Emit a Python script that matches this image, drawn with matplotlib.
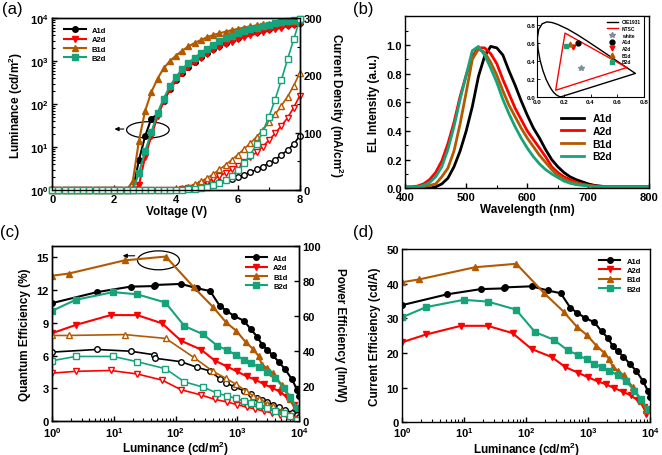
import numpy as np
import matplotlib
matplotlib.use('Agg')
import matplotlib.pyplot as plt
from matplotlib.patches import Ellipse
from matplotlib.ticker import AutoMinorLocator, LogLocator, NullFormatter

plt.rcParams['font.family'] = ['Liberation Sans', 'DejaVu Sans']
plt.rcParams['font.weight'] = 'bold'
plt.rcParams['axes.labelweight'] = 'bold'
plt.rcParams['mathtext.fontset'] = 'custom'
plt.rcParams['mathtext.bf'] = 'Liberation Sans:bold'
plt.rcParams['mathtext.rm'] = 'Liberation Sans:bold'
plt.rcParams['xtick.direction'] = 'in'
plt.rcParams['ytick.direction'] = 'in'
plt.rcParams['axes.linewidth'] = 1.0

# ---- (a) L-J-V data, 0.2 V steps
volt = [0.0, 0.2, 0.4, 0.6, 0.8, 1.0, 1.2, 1.4, 1.6, 1.8, 2.0, 2.2, 2.4, 2.6, 2.8, 3.0,
        3.2, 3.4, 3.6, 3.8, 4.0, 4.2, 4.4, 4.6, 4.8, 5.0, 5.2, 5.4, 5.6, 5.8, 6.0,
        6.2, 6.4, 6.6, 6.8, 7.0, 7.2, 7.4, 7.6, 7.8, 8.0]
lum_A1d = [1] * 14 + [5, 18, 46, 58, 120, 220, 360, 530, 740, 980, 1250, 1550, 1900, 2300,
                      2700, 3100, 3500, 3950, 4400, 4850, 5300, 5700, 6150, 6600, 7000, 7450, 7900]
lum_A2d = [1] * 14 + [1.3, 6, 18, 52, 115, 220, 360, 520, 720, 950, 1200, 1500, 1800, 2150,
                      2500, 2850, 3200, 3600, 4000, 4400, 4800, 5200, 5600, 6000, 6400, 6800, 7200]
lum_B1d = [1] * 13 + [1.6, 14, 70, 190, 390, 690, 1000, 1350, 1750, 2200, 2650, 3100, 3600, 4050,
                      4450, 4850, 5250, 5650, 6050, 6400, 6800, 7150, 7500, 7800, 8100, 8400, 8700, 9000]
lum_B2d = [1] * 14 + [2.5, 8, 22, 62, 135, 260, 430, 650, 900, 1200, 1550, 1950, 2400, 2900,
                      3400, 3900, 4450, 5000, 5500, 6000, 6600, 7100, 7600, 8100, 8600, 9100, 9500]
J_A1d = [0] * 22 + [1, 3, 5, 8, 11, 14, 17, 20, 23, 27, 31, 36, 41, 47, 53, 61, 70, 80, 95]
J_A2d = [0] * 21 + [1, 3, 6, 10, 14, 19, 24, 30, 36, 42, 49, 57, 66, 76, 87, 99, 112, 126, 144, 165]
J_B1d = [0] * 20 + [1, 3, 6, 10, 15, 21, 28, 36, 44, 53, 62, 72, 82, 93, 105, 118, 132, 147, 163, 182, 205]
J_B2d = [0] * 22 + [1, 2, 4, 6, 9, 13, 18, 25, 35, 47, 62, 80, 102, 128, 158, 192, 228, 263, 298]

# ---- (b) EL spectra, 10 nm steps
wl = list(range(400, 801, 10))
el_A1d = [0, 0, 0, 0, 0, 0.01, 0.03, 0.07, 0.15, 0.26, 0.40, 0.57, 0.78, 0.92, 0.99,
          0.98, 0.93, 0.82, 0.72, 0.61, 0.51, 0.42, 0.35, 0.27, 0.20, 0.15, 0.11, 0.08,
          0.06, 0.045, 0.03, 0.02, 0.015, 0.01, 0.01, 0.01, 0.01, 0.01, 0.01, 0.01, 0.01]
el_A2d = [0.01, 0.01, 0.015, 0.03, 0.06, 0.11, 0.19, 0.31, 0.46, 0.64, 0.79, 0.92, 0.98, 0.98,
          0.94, 0.87, 0.76, 0.66, 0.56, 0.48, 0.40, 0.34, 0.28, 0.22, 0.15, 0.11, 0.08, 0.06,
          0.04, 0.03, 0.02, 0.015, 0.01, 0.01, 0.01, 0.01, 0.01, 0.01, 0.01, 0.01, 0.01]
el_B1d = [0, 0, 0.005, 0.01, 0.02, 0.03, 0.08, 0.14, 0.26, 0.45, 0.67, 0.90, 0.97, 0.95,
          0.88, 0.79, 0.68, 0.58, 0.50, 0.42, 0.35, 0.29, 0.23, 0.18, 0.13, 0.09, 0.065, 0.045,
          0.035, 0.025, 0.02, 0.015, 0.01, 0.01, 0.01, 0.01, 0.01, 0.01, 0.01, 0.01, 0.01]
el_B2d = [0.01, 0.01, 0.01, 0.02, 0.04, 0.08, 0.15, 0.27, 0.43, 0.62, 0.79, 0.96, 0.99, 0.93,
          0.84, 0.74, 0.62, 0.52, 0.43, 0.35, 0.28, 0.22, 0.17, 0.13, 0.10, 0.075, 0.05, 0.035,
          0.025, 0.02, 0.015, 0.01, 0.01, 0.01, 0.01, 0.01, 0.01, 0.01, 0.01, 0.01, 0.01]

# CIE 1931 spectral locus and NTSC gamut
cie_x = [0.1741, 0.1440, 0.1241, 0.1096, 0.0913, 0.0687, 0.0454, 0.0235, 0.0082, 0.0039, 0.0139,
         0.0389, 0.0743, 0.1142, 0.1547, 0.2296, 0.3016, 0.3731, 0.4441, 0.5125, 0.5752,
         0.6270, 0.6915, 0.7260, 0.7347, 0.1741]
cie_y = [0.0050, 0.0297, 0.0578, 0.0868, 0.1327, 0.2007, 0.2950, 0.4127, 0.5384, 0.6548, 0.7502,
         0.8120, 0.8338, 0.8262, 0.8059, 0.7543, 0.6923, 0.6245, 0.5547, 0.4866, 0.4242,
         0.3725, 0.3083, 0.2740, 0.2653, 0.0050]
ntsc_x = [0.67, 0.21, 0.14, 0.67]
ntsc_y = [0.33, 0.71, 0.08, 0.33]
white_xy = (0.33, 0.33)
cie_dev = {'A1d': (0.31, 0.60), 'A2d': (0.27, 0.56), 'B1d': (0.25, 0.59), 'B2d': (0.22, 0.57)}

# ---- (c)/(d) efficiencies vs luminance
effL_A1d = [1, 5.3, 18.5, 44, 46, 122, 222, 360, 515, 660, 890, 1260, 1650, 2100, 2500, 3000,
            3700, 4700, 5900, 7600, 9200, 9800]
ce_A1d = [33.8, 36.9, 38.4, 38.6, 38.9, 39.2, 38.0, 37.2, 33.0, 31.6, 30.1, 28.8, 26.2, 24.2,
          21.9, 20.5, 18.9, 16.8, 14.9, 12.0, 9.1, 7.2]
eqe_A1d = [10.8, 11.8, 12.3, 12.35, 12.45, 12.55, 12.15, 11.9, 10.55, 10.1, 9.6, 9.2, 8.4, 7.7,
           7.0, 6.55, 6.05, 5.4, 4.75, 3.85, 2.9, 2.3]
pe_A1d = [39.5, 41, 40, 38, 36, 34, 30.8, 28.7, 24.3, 21.9, 19.6, 17.5, 15.5, 13.5, 12, 10.8,
          9.5, 8, 6.5, 5, 3.5, 2.5]

effL_A2d = [1, 2.4, 8.8, 23.7, 60, 122, 257, 427, 680, 980, 1420, 1950, 2650, 3630, 4900, 6300,
            8100, 8600]
ce_A2d = [23.1, 25.3, 27.8, 27.8, 25.7, 21.1, 18.8, 15.9, 14.3, 13.0, 11.8, 10.9, 9.8, 8.8, 7.7,
          6.3, 4.3, 2.4]
eqe_A2d = [8.05, 8.8, 9.7, 9.7, 8.95, 7.35, 6.55, 5.55, 5.0, 4.55, 4.1, 3.8, 3.4, 3.05, 2.7,
           2.2, 1.5, 0.85]
pe_A2d = [27.5, 28.5, 29, 27, 23.5, 18, 15, 12.5, 11, 9.5, 8, 7, 5.8, 4.8, 3.8, 2.8, 1.5, 0.8]

effL_B1d = [1, 1.86, 14.8, 69, 195, 400, 650, 960, 1350, 1790, 2200, 2500, 3000, 3730, 5240,
            7100, 8700]
ce_B1d = [40.4, 41.2, 44.7, 45.7, 37.2, 31.9, 27.6, 25.1, 22.1, 20.1, 18.2, 15.9, 14.9, 13.5,
          10.1, 6.25, 3.4]
eqe_B1d = [13.3, 13.5, 14.7, 15.05, 12.25, 10.45, 9.05, 8.25, 7.25, 6.6, 5.95, 5.15, 4.85, 4.4,
           3.3, 2.05, 1.1]
pe_B1d = [49, 49, 49.5, 47.3, 36.5, 28.5, 24.5, 21, 17.5, 14.5, 12.5, 11, 10, 8.5, 6, 3.5, 1.5]

effL_B2d = [1, 2.4, 9.7, 23.7, 68, 138, 277, 470, 680, 950, 1260, 1650, 2200, 3000, 4100, 5600,
            7100, 9200]
ce_B2d = [30.3, 33.2, 35.3, 34.8, 32.5, 26.0, 23.8, 20.7, 19.4, 18.1, 16.8, 15.9, 14.9, 13.5,
          11.8, 9.1, 6.7, 3.8]
eqe_B2d = [10.1, 11.1, 11.8, 11.6, 10.85, 8.7, 7.95, 6.9, 6.5, 6.05, 5.6, 5.3, 5.0, 4.5, 3.95,
           3.05, 2.25, 1.25]
pe_B2d = [34.6, 37, 37, 34, 30, 22.5, 19.5, 16, 14.5, 13, 11.5, 10.5, 9, 7.5, 6, 4.5, 3, 1]

names = ['A1d', 'A2d', 'B1d', 'B2d']
colors = {'A1d': 'black', 'A2d': '#ff0000', 'B1d': '#b35900', 'B2d': '#16a37a'}
marks = {'A1d': 'o', 'A2d': 'v', 'B1d': '^', 'B2d': 's'}

lum_a = {'A1d': lum_A1d, 'A2d': lum_A2d, 'B1d': lum_B1d, 'B2d': lum_B2d}
J_a = {'A1d': J_A1d, 'A2d': J_A2d, 'B1d': J_B1d, 'B2d': J_B2d}
el = {'A1d': el_A1d, 'A2d': el_A2d, 'B1d': el_B1d, 'B2d': el_B2d}
effL = {'A1d': effL_A1d, 'A2d': effL_A2d, 'B1d': effL_B1d, 'B2d': effL_B2d}
ce = {'A1d': ce_A1d, 'A2d': ce_A2d, 'B1d': ce_B1d, 'B2d': ce_B2d}
eqe = {'A1d': eqe_A1d, 'A2d': eqe_A2d, 'B1d': eqe_B1d, 'B2d': eqe_B2d}
pe = {'A1d': pe_A1d, 'A2d': pe_A2d, 'B1d': pe_B1d, 'B2d': pe_B2d}

logticks = [1, 10, 100, 1000, 10000]
loglabels = [r'$\mathbf{10^{%d}}$' % i for i in range(5)]
TICK = 8
LAB = 8.5


def style(ax, right=False):
    ax.tick_params(which='major', labelsize=TICK, length=3.5, width=1, pad=2.5)
    ax.tick_params(which='minor', length=2, width=0.8)
    if right:
        ax.tick_params(which='both', left=False, right=True)


def logx(ax):
    ax.set_xscale('log')
    ax.set_xlim(1, 10000)
    ax.set_xticks(logticks, labels=loglabels)
    ax.xaxis.set_minor_locator(LogLocator(subs=range(2, 10)))
    ax.xaxis.set_minor_formatter(NullFormatter())


fig = plt.figure(figsize=(6.62, 4.56), dpi=100)
axa = fig.add_axes([0.079, 0.581, 0.374, 0.377])
axb = fig.add_axes([0.612, 0.585, 0.369, 0.377])
axc = fig.add_axes([0.079, 0.074, 0.373, 0.384])
axd = fig.add_axes([0.608, 0.072, 0.374, 0.380])

# ---------- (a)
axa2 = axa.twinx()
for n in names:
    axa.plot(volt, lum_a[n], color=colors[n], marker=marks[n], ms=4, lw=1.5, label=n, clip_on=False)
    axa2.plot(volt, J_a[n], color=colors[n], marker=marks[n], ms=4, lw=1.2, mfc='white', clip_on=False)
axa.set_yscale('log')
axa.set_ylim(1, 1e4)
axa.set_xlim(0, 8)
axa.set_yticks(logticks, labels=loglabels)
axa.yaxis.set_minor_locator(LogLocator(subs=range(2, 10)))
axa.yaxis.set_minor_formatter(NullFormatter())
axa.set_xticks([0, 2, 4, 6, 8])
axa.xaxis.set_minor_locator(AutoMinorLocator(2))
axa2.set_ylim(0, 300)
axa2.set_yticks([0, 100, 200, 300])
axa2.yaxis.set_minor_locator(AutoMinorLocator(2))
style(axa)
style(axa2, right=True)
axa.set_xlabel('Voltage (V)', fontsize=LAB, labelpad=1)
axa.set_ylabel(r'Luminance (cd/m$\mathbf{^2}$)', fontsize=LAB)
axa2.set_ylabel(r'Current Density (mA/cm$\mathbf{^2}$)', fontsize=LAB, rotation=270, va='center')
axa2.yaxis.set_label_coords(1.145, 0.5)
axa.legend(loc='upper left', bbox_to_anchor=(0.02, 0.99), frameon=False,
           prop={'size': 5.5, 'weight': 'bold'}, handlelength=2.8, labelspacing=0.25)
axa.add_patch(Ellipse((0.386, 0.35), 0.172, 0.095, transform=axa.transAxes,
                      fill=False, ec='black', lw=0.9))
axa.annotate('', xy=(0.24, 0.355), xytext=(0.30, 0.355), xycoords='axes fraction',
             arrowprops=dict(arrowstyle='-|>', color='black', lw=0.8, mutation_scale=6))

# ---------- (b)
for n in names:
    axb.plot(wl, el[n], color=colors[n], lw=2, label=n)
axb.set_xlim(400, 800)
axb.set_ylim(0, 1.2)
axb.set_xticks([400, 500, 600, 700, 800])
axb.set_yticks([0, 0.2, 0.4, 0.6, 0.8, 1.0])
axb.set_yticklabels(['0.0', '0.2', '0.4', '0.6', '0.8', '1.0'])
axb.xaxis.set_minor_locator(AutoMinorLocator(2))
axb.yaxis.set_minor_locator(AutoMinorLocator(2))
style(axb)
axb.set_xlabel('Wavelength (nm)', fontsize=LAB, labelpad=1)
axb.set_ylabel('EL Intensity (a.u.)', fontsize=LAB)
axb.legend(loc='upper left', bbox_to_anchor=(0.6, 0.49), frameon=False,
           prop={'size': 7.5, 'weight': 'bold'}, handlelength=2.2, labelspacing=0.25)

axin = fig.add_axes([0.811, 0.784, 0.162, 0.179])
axin.plot(cie_x, cie_y, color='black', lw=1, label='CIE1931')
axin.plot(ntsc_x, ntsc_y, color='#ff0000', lw=1, label='NTSC')
axin.plot(*white_xy, ls='none', marker='*', color='#7f8c99', ms=4, label='white')
for n in names:
    axin.plot(*cie_dev[n], ls='none', marker=marks[n], color=colors[n], ms=3.5, label=n)
axin.set_xlim(0, 0.8)
axin.set_ylim(0, 0.9)
axin.set_xticks([0, 0.2, 0.4, 0.6, 0.8])
axin.set_yticks([0, 0.2, 0.4, 0.6, 0.8])
axin.set_xticklabels(['0.0', '0.2', '0.4', '0.6', '0.8'])
axin.set_yticklabels(['0.0', '0.2', '0.4', '0.6', '0.8'])
axin.tick_params(labelsize=4.5, length=2, width=0.6, pad=1)
for s in axin.spines.values():
    s.set_linewidth(0.8)
axin.legend(loc='upper right', frameon=False, prop={'size': 3.5, 'weight': 'bold'},
            handlelength=2.2, labelspacing=0.35, borderpad=0.2)

# ---------- (c)
axc2 = axc.twinx()
for n in names:
    axc.plot(effL[n], eqe[n], color=colors[n], marker=marks[n], ms=4, lw=1.5, label=n)
    axc2.plot(effL[n], pe[n], color=colors[n], marker=marks[n], ms=4, lw=1.2, mfc='white')
logx(axc)
axc.set_ylim(0, 16)
axc.set_yticks([0, 3, 6, 9, 12, 15])
axc2.set_ylim(0, 100)
axc2.set_yticks([0, 20, 40, 60, 80, 100])
style(axc)
style(axc2, right=True)
axc.set_xlabel(r'Luminance (cd/m$\mathbf{^2}$)', fontsize=LAB, labelpad=0.5)
axc.set_ylabel('Quantum Efficiency (%)', fontsize=LAB)
axc2.set_ylabel('Power Efficiency (lm/W)', fontsize=LAB, rotation=270, va='center')
axc2.yaxis.set_label_coords(1.165, 0.5)
axc.legend(loc='upper right', bbox_to_anchor=(0.98, 0.99), frameon=False,
           prop={'size': 5.5, 'weight': 'bold'}, handlelength=2.8, labelspacing=0.25)
axc.add_patch(Ellipse((0.43, 0.919), 0.17, 0.108, transform=axc.transAxes,
                      fill=False, ec='black', lw=0.9))
axc.annotate('', xy=(0.274, 0.945), xytext=(0.345, 0.945), xycoords='axes fraction',
             arrowprops=dict(arrowstyle='-|>', color='black', lw=0.8, mutation_scale=6))

# ---------- (d)
for n in names:
    axd.plot(effL[n], ce[n], color=colors[n], marker=marks[n], ms=4, lw=1.5, label=n)
logx(axd)
axd.set_ylim(0, 50)
axd.set_yticks([0, 10, 20, 30, 40, 50])
style(axd)
axd.set_xlabel(r'Luminance (cd/m$\mathbf{^2}$)', fontsize=LAB, labelpad=0.5)
axd.set_ylabel('Current Efficiency (cd/A)', fontsize=LAB)
axd.legend(loc='upper right', bbox_to_anchor=(0.99, 0.99), frameon=False,
           prop={'size': 5.5, 'weight': 'bold'}, handlelength=2.8, labelspacing=0.25)

# panel labels
for x, y, t in [(0.003, 0.98, '(a)'), (0.533, 0.98, '(b)'), (0.0, 0.49, '(c)'), (0.533, 0.49, '(d)')]:
    fig.text(x, y, t, fontsize=12, fontweight='normal', va='center')

fig.savefig('out.png', dpi=100)
